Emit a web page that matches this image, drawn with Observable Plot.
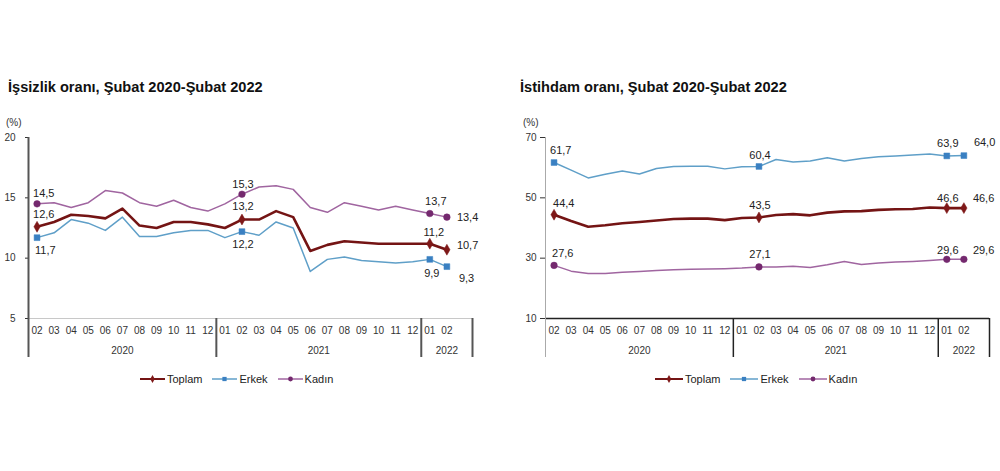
<!DOCTYPE html>
<html>
<head>
<meta charset="utf-8">
<script src="https://cdn.jsdelivr.net/npm/d3@7"></script>
<script src="https://cdn.jsdelivr.net/npm/@observablehq/plot@0.6"></script>
<style>
  html, body { margin: 0; padding: 0; background: #fff; }
  body { width: 1000px; height: 471px; position: relative; overflow: hidden; font-family: "Liberation Sans", Arial, sans-serif; }
  .panel { position: absolute; top: 0; width: 500px; height: 471px; }
  .title { position: absolute; top: 79px; font-weight: bold; font-size: 14.6px; color: #111; white-space: nowrap; }
  .unit { position: absolute; top: 117px; font-size: 10px; color: #333; }
  .chart { position: absolute; top: 110px; left: 0; }
  .legend { position: absolute; top: 373px; font-size: 11px; color: #222; display: flex; align-items: center; white-space: nowrap; }
  .legend .item { display: flex; align-items: center; margin-right: 10px; }
  .legend svg { margin-right: 2px; }
</style>
</head>
<body>
<div class="panel" id="left">
  <div class="title" style="left:8px">İşsizlik oranı, Şubat 2020-Şubat 2022</div>
  <div class="unit" style="left:6px">(%)</div>
  <div class="chart" id="chartL"></div>
  <div class="legend" id="legendL" style="left:140px"></div>
</div>
<div class="panel" id="right" style="left:500px">
  <div class="title" style="left:20px">İstihdam oranı, Şubat 2020-Şubat 2022</div>
  <div class="unit" style="left:23px">(%)</div>
  <div class="chart" id="chartR"></div>
  <div class="legend" id="legendR" style="left:155px"></div>
</div>
<script>
// ---- data ----
const months = ["02","03","04","05","06","07","08","09","10","11","12",
                "01","02","03","04","05","06","07","08","09","10","11","12",
                "01","02"];
const yearLabels = ["2020", "2021", "2022"];
const yearSlots = [11, 12, 3];
const labelIdx = [0, 12, 23, 24];
const seriesNames = ["Toplam", "Erkek", "Kadın"];

const issizlikToplam = [12.6, 13.0, 13.6, 13.5, 13.3, 14.1, 12.7, 12.5, 13.0, 13.0, 12.8, 12.5,
                        13.2, 13.2, 13.9, 13.4, 10.6, 11.1, 11.4, 11.3, 11.2, 11.2, 11.2, 11.2, 10.7];
const issizlikErkek  = [11.7, 12.1, 13.2, 12.9, 12.3, 13.4, 11.8, 11.8, 12.1, 12.3, 12.3, 11.7,
                        12.2, 11.9, 13.0, 12.5, 8.9, 9.9, 10.1, 9.8, 9.7, 9.6, 9.7, 9.9, 9.3];
const issizlikKadin  = [14.5, 14.6, 14.2, 14.6, 15.6, 15.4, 14.6, 14.3, 14.8, 14.2, 13.9, 14.5,
                        15.3, 15.9, 16.0, 15.7, 14.2, 13.8, 14.6, 14.3, 14.0, 14.3, 14.0, 13.7, 13.4];

const istihdamToplam = [44.4, 42.3, 40.4, 40.9, 41.6, 42.0, 42.5, 43.0, 43.1, 43.1, 42.6, 43.3,
                        43.5, 44.3, 44.6, 44.2, 45.1, 45.5, 45.6, 46.0, 46.2, 46.3, 46.8, 46.6, 46.6];
const istihdamErkek  = [61.7, 59.2, 56.6, 57.8, 58.9, 57.9, 59.7, 60.4, 60.5, 60.5, 59.6, 60.3,
                        60.4, 62.7, 61.9, 62.2, 63.3, 62.2, 63.0, 63.6, 63.9, 64.2, 64.5, 63.9, 64.0];
const istihdamKadin  = [27.6, 25.7, 24.9, 24.9, 25.3, 25.6, 25.9, 26.2, 26.3, 26.4, 26.5, 26.7,
                        27.1, 27.1, 27.3, 26.9, 27.8, 28.9, 27.9, 28.4, 28.7, 28.9, 29.2, 29.6, 29.6];

const issizlikTicks = [5, 10, 15, 20];
const istihdamTicks = [10, 30, 50, 70];

// ---- styles ----
const lineColors = ["#741414", "#5f9fc8", "#a065a0"];
const lineWidths = [2.6, 1.5, 1.5];
const markColors = ["#7e1818", "#3a80c2", "#74296e"];
const symbols = ["diamond", "square", "circle"];
const fmt = v => d3.format(".1f")(v).replace(".", ",");

function makeChart(opts) {
  const values = opts.values;
  const rows = seriesNames.flatMap((s, k) => values[k].map((v, i) => ({s, i, v})));
  const bounds = [-0.5];
  yearSlots.forEach(n => bounds.push(bounds[bounds.length - 1] + n));
  const years = yearLabels.map((y, k) => ({y, c: (bounds[k] + bounds[k + 1]) / 2}));
  const y0 = opts.yDomain[0];
  const ext = -39;
  const marks = [
    Plot.ruleY([y0], {stroke: opts.xLine, strokeWidth: opts.xLineW}),
    Plot.ruleX([bounds[0]], {stroke: opts.yLine, strokeWidth: opts.yLineW, insetBottom: ext}),
    Plot.ruleX(bounds.slice(1), {y1: y0, y2: y0, stroke: opts.sep, strokeWidth: opts.sepW, insetBottom: ext}),
    Plot.text(years, {x: "c", y: () => y0, text: "y", dy: 32, fontSize: 10, fill: "#333"})
  ];
  seriesNames.forEach((s, k) => {
    const sr = rows.filter(r => r.s === s);
    marks.push(Plot.line(sr, {x: "i", y: "v", stroke: lineColors[k], strokeWidth: lineWidths[k], strokeLinejoin: "round"}));
    const pts = sr.filter(r => labelIdx.includes(r.i));
    marks.push(Plot.dot(pts, {x: "i", y: "v", symbol: symbols[k], r: 3.3, fill: markColors[k], stroke: markColors[k], strokeWidth: 0.5}));
    labelIdx.forEach((idx, j) => {
      const p = opts.labelPos[k][j];
      marks.push(Plot.text(pts.filter(r => r.i === idx), {
        x: "i", y: "v", text: d => fmt(d.v), dx: p[0], dy: p[1], textAnchor: p[2], fontSize: 11, fill: "#222"
      }));
    });
  });
  return Plot.plot({
    width: 500,
    height: 260,
    marginLeft: opts.ml, marginRight: opts.mr, marginTop: 27, marginBottom: 52,
    style: {fontFamily: "'Liberation Sans', Arial, sans-serif", fontSize: "10px", color: "#333", background: "transparent", overflow: "visible"},
    x: {domain: [-0.5, 25.5], ticks: months.map((m, i) => i), tickFormat: i => months[i], tickSize: 0, tickPadding: 8, label: null},
    y: {domain: opts.yDomain, ticks: opts.ticks, tickFormat: d => String(d), tickSize: opts.tickSize, tickPadding: opts.tickPadding, label: null},
    marks
  });
}

const left = makeChart({
  values: [issizlikToplam, issizlikErkek, issizlikKadin],
  ticks: issizlikTicks, yDomain: [5, 20], ml: 28, mr: 28,
  xLine: "#c8c8c8", xLineW: 1, yLine: "#555", yLineW: 2, sep: "#555", sepW: 2,
  tickSize: 3, tickPadding: 10,
  labelPos: [
    [[-4, -12, "start"], [1, -13, "middle"], [4, -11, "middle"], [10, -4, "start"]],
    [[-2, 13, "start"], [1, 13, "middle"], [2, 14, "middle"], [12, 12, "start"]],
    [[-4, -10, "start"], [1, -10, "middle"], [6, -12, "middle"], [10, 0, "start"]]
  ]
});
document.getElementById("chartL").appendChild(left);

const right = makeChart({
  values: [istihdamToplam, istihdamErkek, istihdamKadin],
  ticks: istihdamTicks, yDomain: [10, 70], ml: 45, mr: 11,
  xLine: "#222", xLineW: 1.5, yLine: "#aaa", yLineW: 1, sep: "#222", sepW: 1.5,
  tickSize: 5, tickPadding: 4,
  labelPos: [
    [[-1, -11, "start"], [1, -12, "middle"], [1, -10, "middle"], [9, -10, "start"]],
    [[-4, -12, "start"], [1, -11, "middle"], [1, -12, "middle"], [10, -13, "start"]],
    [[-2, -12, "start"], [1, -12, "middle"], [1, -9, "middle"], [9, -9, "start"]]
  ]
});
document.getElementById("chartR").appendChild(right);

// ---- legends ----
function legend(id, sw) {
  const el = d3.select("#" + id);
  seriesNames.forEach((s, k) => {
    const item = el.append("div").attr("class", "item");
    const svg = item.append("svg").attr("width", sw).attr("height", 10);
    svg.append("line").attr("x1", 0).attr("x2", sw).attr("y1", 5).attr("y2", 5)
      .attr("stroke", lineColors[k]).attr("stroke-width", k === 0 ? 2 : 1.5);
    svg.append("path").attr("transform", `translate(${sw / 2},5)`)
      .attr("d", d3.symbol(k === 0 ? d3.symbolDiamond : k === 1 ? d3.symbolSquare : d3.symbolCircle, 18)())
      .attr("fill", markColors[k]);
    item.append("span").text(s);
  });
}
legend("legendL", 25);
legend("legendR", 28);
</script>
</body>
</html>
